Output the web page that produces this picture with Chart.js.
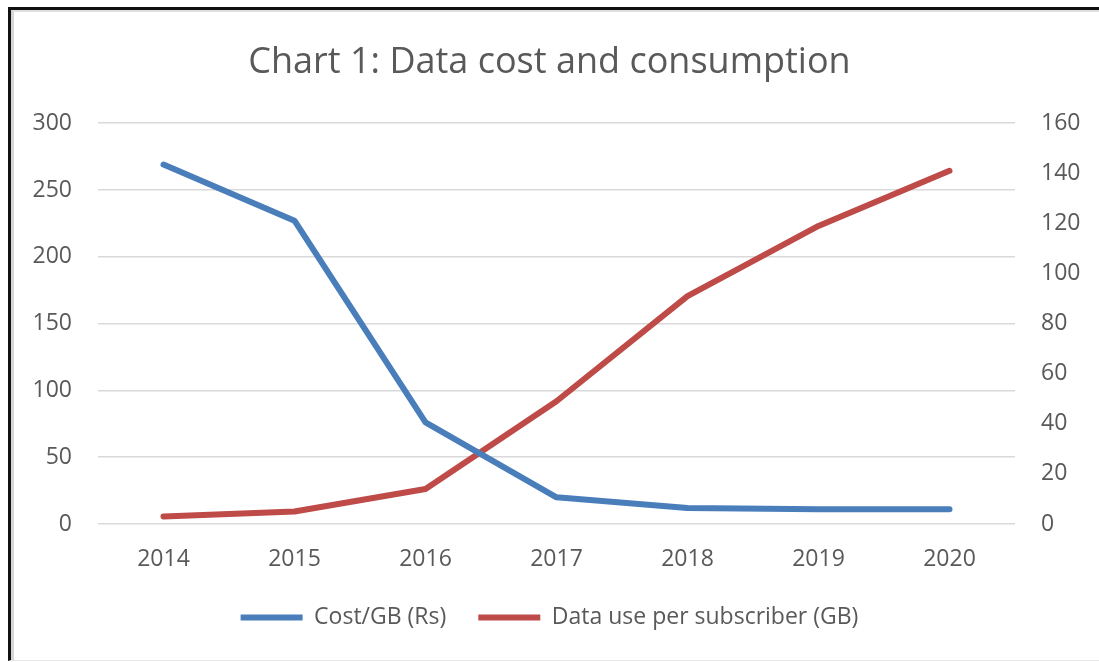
<!DOCTYPE html>
<html lang="en">
<head>
  <meta charset="UTF-8">
  <title>Chart 1: Data cost and consumption</title>
  <script src="https://cdn.jsdelivr.net/npm/chart.js"></script>
  <style>
    html, body {
      margin: 0;
      padding: 0;
      background: #ffffff;
    }
    .frame {
      position: absolute;
      left: 8px;
      top: 7px;
      width: 1091px;
      height: 654px;
      border-top: 3px solid #111;
      border-left: 3px solid #111;
      border-bottom: 1px solid #e6e6e6;
      box-sizing: border-box;
    }
    .frame::before {
      content: '';
      position: absolute;
      left: 0;
      top: 0;
      right: 0;
      bottom: 0;
      border-top: 2px solid #e0e0e0;
      border-left: 3px solid #d6d6d6;
    }
    .wrap {
      position: absolute;
      left: 0;
      top: 0;
      width: 1099px;
      height: 662px;
    }
  </style>
</head>
<body>
  <div class="frame"></div>
  <div class="wrap"><canvas id="grafica" width="1099" height="662"></canvas></div>

  <script>
    const years = ['2014', '2015', '2016', '2017', '2018', '2019', '2020'];
    const costPerGB = [269, 227, 76, 20, 12, 11, 11];
    const dataPerSub = [3, 5, 14, 49, 91, 119, 141];
    const leftTicks = [0, 50, 100, 150, 200, 250, 300];
    const rightTicks = [0, 20, 40, 60, 80, 100, 120, 140, 160];

    const fontFam = '"Open Sans", "Noto Sans", sans-serif';
    const txt = '#595959';

    const ctx = document.getElementById('grafica').getContext('2d');
    new Chart(ctx, {
      type: 'line',
      data: {
        labels: years,
        datasets: [
          {
            label: 'Cost/GB (Rs)',
            data: costPerGB,
            borderColor: '#4A7EBB',
            backgroundColor: '#4A7EBB',
            borderWidth: 6,
            pointRadius: 0,
            borderCapStyle: 'round',
            borderJoinStyle: 'round',
            yAxisID: 'y',
            tension: 0
          },
          {
            label: 'Data use per subscriber (GB)',
            data: dataPerSub,
            borderColor: '#BE4B48',
            backgroundColor: '#BE4B48',
            borderWidth: 6,
            pointRadius: 0,
            borderCapStyle: 'round',
            borderJoinStyle: 'round',
            yAxisID: 'y1',
            tension: 0
          }
        ]
      },
      options: {
        responsive: false,
        animation: false,
        layout: { padding: { left: 0, right: 0, top: 0, bottom: 23 } },
        plugins: {
          title: {
            display: true,
            text: 'Chart 1: Data cost and consumption',
            color: txt,
            font: { family: fontFam, size: 36, weight: 'normal' },
            padding: { top: 41, bottom: 39 }
          },
          legend: {
            position: 'bottom',
            labels: {
              color: txt,
              font: { family: fontFam, size: 23 },
              boxWidth: 62,
              boxHeight: 0,
              padding: 32,
              generateLabels: function(chart) {
                return chart.data.datasets.map(function(ds, i) {
                  return {
                    text: ds.label,
                    fillStyle: ds.borderColor,
                    strokeStyle: ds.borderColor,
                    lineWidth: 6,
                    lineCap: 'round',
                    fontColor: txt,
                    datasetIndex: i
                  };
                });
              }
            }
          },
          tooltip: { enabled: false }
        },
        scales: {
          x: {
            offset: true,
            grid: { display: false, drawTicks: false },
            border: { display: false },
            ticks: { color: txt, font: { family: fontFam, size: 23 }, padding: 22 },
            afterFit: function(s) { s.height = 50; }
          },
          y: {
            position: 'left',
            min: 0,
            max: 300,
            afterBuildTicks: function(s) { s.ticks = leftTicks.map(v => ({ value: v })); },
            grid: { color: '#d9d9d9', lineWidth: 1.5, drawTicks: false },
            border: { display: false },
            ticks: { color: txt, font: { family: fontFam, size: 23 }, padding: 26 },
            afterFit: function(s) { s.width = 98; }
          },
          y1: {
            position: 'right',
            min: 0,
            max: 160,
            afterBuildTicks: function(s) { s.ticks = rightTicks.map(v => ({ value: v })); },
            grid: { display: false, drawTicks: false },
            border: { display: false },
            ticks: { color: txt, font: { family: fontFam, size: 23 }, padding: 26 },
            afterFit: function(s) { s.width = 84; }
          }
        }
      }
    });
  </script>
</body>
</html>
